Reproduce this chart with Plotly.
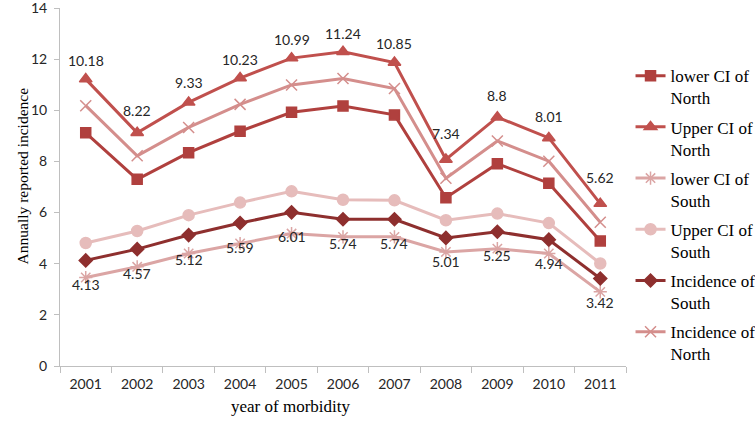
import plotly.graph_objects as go

years = ["2001", "2002", "2003", "2004", "2005", "2006", "2007", "2008", "2009", "2010", "2011"]

lower_ci_north = [9.12, 7.30, 8.34, 9.18, 9.92, 10.17, 9.82, 6.58, 7.91, 7.15, 4.89]
upper_ci_north = [11.22, 9.12, 10.31, 11.26, 12.04, 12.29, 11.87, 8.08, 9.73, 8.92, 6.35]
lower_ci_south = [3.46, 3.88, 4.40, 4.79, 5.18, 5.05, 5.05, 4.46, 4.59, 4.40, 2.90]
upper_ci_south = [4.81, 5.28, 5.90, 6.39, 6.83, 6.50, 6.48, 5.70, 5.96, 5.59, 4.01]
incidence_south = [4.13, 4.57, 5.12, 5.59, 6.01, 5.74, 5.74, 5.01, 5.25, 4.94, 3.42]
incidence_north = [10.18, 8.22, 9.33, 10.23, 10.99, 11.24, 10.85, 7.34, 8.8, 8.01, 5.62]

series = [
    ("lower CI of<br>North", lower_ci_north, "#B0403E", "square", 10),
    ("Upper CI of<br>North", upper_ci_north, "#C0504D", "triangle-up", 11),
    ("lower CI of<br>South", lower_ci_south, "#DBA5A4", "asterisk-open", 11),
    ("Upper CI of<br>South", upper_ci_south, "#E6BCBB", "circle", 11),
    ("Incidence of<br>South", incidence_south, "#8E2F2E", "diamond", 10),
    ("Incidence of<br>North", incidence_north, "#D48E8C", "x-thin-open", 11),
]

fig = go.Figure()
for i, (name, vals, color, sym, size) in enumerate(series):
    fig.add_trace(go.Scatter(
        x=years, y=vals, name=name, mode="lines+markers",
        line=dict(color=color, width=3),
        marker=dict(symbol=sym, size=size, color=color,
                    line=dict(color=color, width=1.5)),
        legendgroup=f"g{i}",
    ))

label_font = dict(family="Lato", size=14, color="#262626")
for i, v in enumerate(incidence_north):
    fig.add_annotation(x=i, y=v, xref="x", yref="y", text=f"{v:g}",
                       showarrow=False, yshift=45, font=label_font)
for i, v in enumerate(incidence_south):
    fig.add_annotation(x=i, y=v, xref="x", yref="y", text=f"{v:g}",
                       showarrow=False, yshift=-24, font=label_font)

fig.add_annotation(xref="paper", yref="paper", x=-0.0848, y=0.531,
                   text="Annually reported incidence", textangle=-90,
                   showarrow=False,
                   font=dict(family="Liberation Serif", size=15.5, color="#000000"))
fig.add_annotation(xref="paper", yref="paper", x=0.407, y=-0.145,
                   text="year of morbidity", showarrow=False,
                   font=dict(family="Liberation Serif", size=17, color="#000000"))

fig.update_layout(
    width=755, height=422,
    margin=dict(l=60, r=129, t=8, b=56, autoexpand=False),
    paper_bgcolor="white", plot_bgcolor="white",
    showlegend=True,
    legend=dict(x=1.008, y=0.86, xanchor="left", yanchor="top",
                font=dict(family="Liberation Serif", size=17, color="#000000"),
                tracegroupgap=4, valign="top", bgcolor="rgba(0,0,0,0)"),
    xaxis=dict(type="category", range=[-0.5, 10.5], showline=True,
               linecolor="#BFBFBF", linewidth=1, ticks="outside",
               tickson="boundaries", ticklen=6, tickcolor="#BFBFBF",
               showgrid=False, zeroline=False, automargin=False,
               ticklabelstandoff=5,
               tickfont=dict(family="Lato", size=14, color="#262626")),
    yaxis=dict(range=[0, 14], dtick=2, showline=True, linecolor="#BFBFBF",
               linewidth=1, ticks="outside", ticklen=5, tickcolor="#BFBFBF",
               showgrid=False, zeroline=False, automargin=False,
               ticklabeloverflow="allow", ticklabelstandoff=4,
               tickfont=dict(family="Lato", size=14, color="#262626")),
)

fig.write_html("out.html", config={"displayModeBar": False},
               post_script="document.body.style.margin='0';document.body.style.padding='0';")
